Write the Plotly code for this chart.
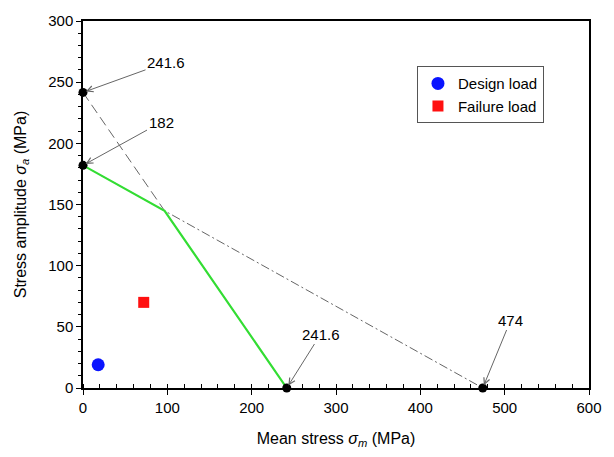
import plotly.graph_objects as go

# Data
design_x = [18]
design_y = [19]
failure_x = [72]
failure_y = [70]

line_a_x = [0, 474]          # dashed line 182 -> 474
line_a_y = [182, 0]
line_b_x = [0, 241.6]        # dashed line 241.6 -> 241.6
line_b_y = [241.6, 0]
green_x = [0, 96.75, 241.6]
green_y = [182, 144.85, 0]

key_x = [0, 0, 241.6, 474]
key_y = [241.6, 182, 0, 0]
key_labels = ["241.6", "182", "241.6", "474"]
label_offsets = [(83, -30), (78, -43), (34, -54), (28, -68)]

FONT = "Liberation Sans"

fig = go.Figure()
fig.add_trace(go.Scatter(x=line_b_x, y=line_b_y, mode="lines",
                         line=dict(color="#666666", width=1, dash="10px,5px"),
                         showlegend=False, hoverinfo="skip"))
fig.add_trace(go.Scatter(x=line_a_x, y=line_a_y, mode="lines",
                         line=dict(color="#666666", width=1, dash="9px,3px,2px,3px"),
                         showlegend=False, hoverinfo="skip"))
fig.add_trace(go.Scatter(x=green_x, y=green_y, mode="lines",
                         line=dict(color="#33dd33", width=2.2),
                         showlegend=False, hoverinfo="skip"))
fig.add_trace(go.Scatter(x=key_x, y=key_y, mode="markers",
                         marker=dict(color="black", size=9),
                         showlegend=False, cliponaxis=False, hoverinfo="skip"))
fig.add_trace(go.Scatter(x=design_x, y=design_y, mode="markers", name="Design load",
                         marker=dict(color="#0a14ff", size=13, symbol="circle")))
fig.add_trace(go.Scatter(x=failure_x, y=failure_y, mode="markers", name="Failure load",
                         marker=dict(color="#ff1010", size=11, symbol="square")))

for xv, yv, lab, (dx, dy) in zip(key_x, key_y, key_labels, label_offsets):
    fig.add_annotation(x=xv, y=yv, text=lab, showarrow=True, ax=dx, ay=dy,
                       arrowhead=5, arrowsize=1.2, arrowwidth=1, arrowcolor="#666666",
                       standoff=3, font=dict(family=FONT, size=15, color="black"))

fig.update_layout(
    width=614, height=457,
    margin=dict(l=83, r=13, t=20, b=64),
    paper_bgcolor="white", plot_bgcolor="white",
    font=dict(family=FONT, size=15, color="black"),
    legend=dict(x=0.66, y=0.877, xanchor="left", yanchor="top",
                bordercolor="#555555", borderwidth=1, bgcolor="white",
                font=dict(family=FONT, size=15), tracegroupgap=0,
                itemwidth=30),
)
fig.update_xaxes(range=[0, 600], dtick=100, tick0=0, showgrid=False, zeroline=False,
                 showline=True, linecolor="black", linewidth=1.5, mirror=True,
                 ticks="outside", ticklen=5, tickcolor="black",
                 tickfont=dict(family=FONT, size=15),
                 minor=dict(dtick=20, ticks="inside", ticklen=4, tickcolor="black"),
                 title=dict(text="Mean stress <i>σ<sub>m</sub></i> (MPa)",
                            font=dict(family=FONT, size=16), standoff=18))
fig.update_yaxes(range=[0, 300], dtick=50, tick0=0, showgrid=False, zeroline=False,
                 showline=True, linecolor="black", linewidth=1.5, mirror=True,
                 ticks="outside", ticklen=5, tickcolor="black",
                 tickfont=dict(family=FONT, size=15),
                 minor=dict(dtick=10, ticks="outside", ticklen=3, tickcolor="black"),
                 title=dict(text="Stress amplitude <i>σ<sub>a</sub></i> (MPa)",
                            font=dict(family=FONT, size=16), standoff=18))

fig.write_html("out.html")
